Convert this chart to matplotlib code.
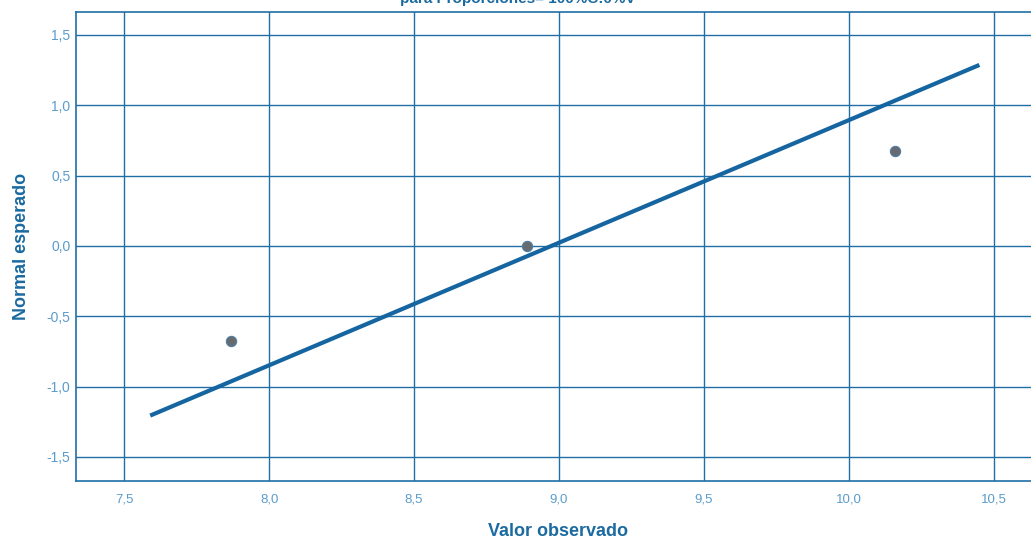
import matplotlib.pyplot as plt
import numpy as np

# observed values and their expected normal scores (Van der Waerden)
valor_observado = [7.87, 8.89, 10.16]
normal_esperado = [-0.674, 0.0, 0.674]
# x range covered by the reference line
linea_x = [7.59, 10.45]

xticks = [7.5, 8.0, 8.5, 9.0, 9.5, 10.0, 10.5]
yticks = [-1.5, -1.0, -0.5, 0.0, 0.5, 1.0, 1.5]

azul = "#1f6fa6"
azul_linea = "#1565a0"
azul_texto = "#5a9ccb"

plt.rcParams["font.family"] = ["Liberation Sans", "DejaVu Sans"]

fig = plt.figure(figsize=(10.31, 5.42), dpi=100)
ax = fig.add_axes([0.0737, 0.1125, 0.9263, 0.8655])

# fitted normal line: z = (x - mean) / sd
media = np.mean(valor_observado)
desv = np.std(valor_observado, ddof=1)
lx = np.array(linea_x)
ax.plot(lx, (lx - media) / desv, color=azul_linea, lw=3, solid_capstyle="butt", zorder=3)

ax.scatter(valor_observado, normal_esperado, s=55, color="#676b70",
           edgecolors="#4f7fa6", linewidths=0.8, zorder=4)

ax.set_xlim(7.334, 10.628)
ax.set_ylim(-1.671, 1.664)
ax.set_xticks(xticks)
ax.set_yticks(yticks)
ax.set_xticklabels([f"{v:.1f}".replace(".", ",") for v in xticks])
ax.set_yticklabels([f"{v:.1f}".replace(".", ",") for v in yticks])
ax.tick_params(length=0, colors=azul_texto)
ax.tick_params(axis="x", labelsize=9.5, pad=9)
ax.tick_params(axis="y", labelsize=10, pad=4)
ax.grid(True, color=azul, lw=1)
ax.set_axisbelow(True)

for lado in ["left", "bottom", "top"]:
    ax.spines[lado].set_color(azul)
    ax.spines[lado].set_linewidth(1.2)
ax.spines["right"].set_visible(False)

fig.text(0.541, 2 / 542, "Valor observado", ha="center", va="bottom",
         fontsize=13, fontweight="bold", color="#1b6aa0")
fig.text(0.021, 0.546, "Normal esperado", ha="center", va="center", rotation=90,
         fontsize=13, fontweight="bold", color="#1b6aa0")
fig.text(0.502, 1 - 3 / 542, "para Proporciones= 100%C:0%V", ha="center",
         va="baseline", fontsize=11, fontweight="bold", color="#1b6aa0")

fig.savefig("out.png", dpi=100)
